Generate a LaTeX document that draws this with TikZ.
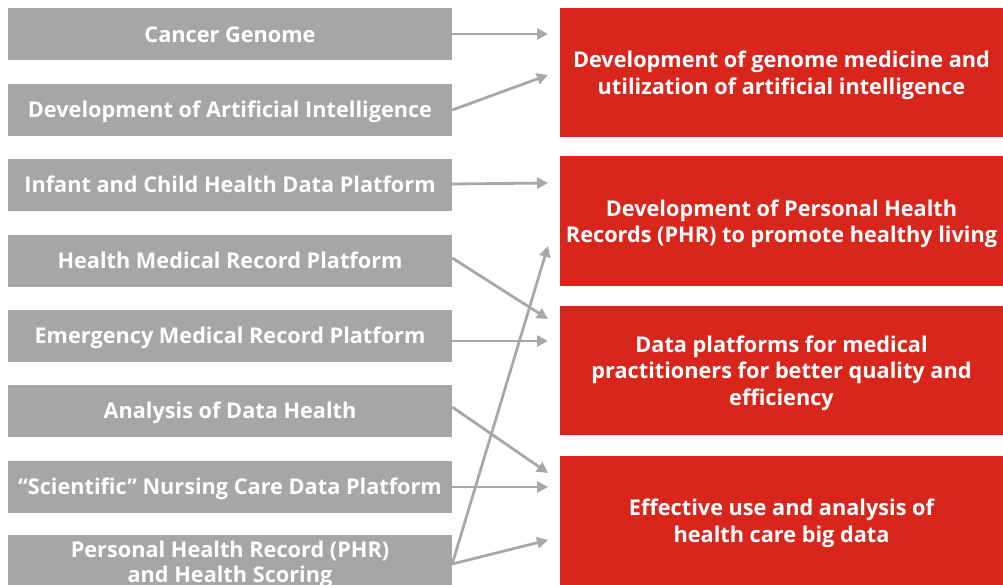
\documentclass[tikz,border=0pt]{standalone}
\usepackage{fontspec}
\setmainfont{Open Sans}[BoldFont={* Bold}]
\usetikzlibrary{arrows.meta}
\definecolor{srcgray}{HTML}{A6A6A6}
\definecolor{tgtred}{HTML}{D9261C}
\definecolor{linkgray}{HTML}{A8A8A8}
\tikzset{
  srcbox/.style={fill=srcgray, draw=none, minimum width=444pt, minimum height=52pt,
    inner sep=0pt, text=white, font=\bfseries\fontsize{21.7}{25}\selectfont, align=center,
    text height=15.5pt, text depth=0pt},
  tgtbox/.style={fill=tgtred, draw=none, minimum width=443pt, minimum height=129pt,
    inner sep=0pt, text=white, font=\bfseries\fontsize{21.7}{26.5}\selectfont, align=center,
    text depth=0pt},
  link/.style={draw=linkgray, line width=2.8pt, -{Triangle[length=11pt,width=11pt]}}
}
\begin{document}
\begin{tikzpicture}[x=1pt,y=-1pt]
\useasboundingbox (0,0) rectangle (1003,585);
\clip (0,0) rectangle (1003,585);
% source boxes
\node[srcbox] (s1) at (230,34.5)  {Cancer Genome};
\node[srcbox] (s2) at (230,110)   {Development of Artificial Intelligence};
\node[srcbox] (s3) at (230,185)   {Infant and Child Health Data Platform};
\node[srcbox] (s4) at (230,261)   {Health Medical Record Platform};
\node[srcbox] (s5) at (230,336)   {Emergency Medical Record Platform};
\node[srcbox] (s6) at (230,411)   {Analysis of Data Health};
\node[srcbox] (s7) at (230,486.5) {“Scientific” Nursing Care Data Platform};
\node[srcbox] (s8) at (230,561) {};
\node[text=white, font=\bfseries\fontsize{21.7}{25}\selectfont, align=center, inner sep=0pt]
  (s8t) at (230,564) {Personal Health Record (PHR)\\and Health Scoring};
% target boxes
\node[tgtbox] (t1) at (781.5,72.5)  {Development of genome medicine and\\utilization of artificial intelligence};
\node[tgtbox] (t2) at (781.5,221)   {Development of Personal Health\\Records (PHR) to promote healthy living};
\node[tgtbox] (t3) at (781.5,370.5) {Data platforms for medical\\practitioners for better quality and\\efficiency};
\node[tgtbox] (t4) at (781.5,520.5) {Effective use and analysis of\\health care big data};
% arrow end points just left of the targets
\coordinate (e1) at (548,34);
\coordinate (e2) at (548,75);
\coordinate (e3) at (548,183);
\coordinate (e4) at (548,246);
\coordinate (e5) at (548,319);
\coordinate (e6) at (548,341);
\coordinate (e7) at (548,473);
\coordinate (e8) at (548,487);
\coordinate (e9) at (548,540);
% connectors
\draw[link] (s1.east |- 0,34) -- (e1);
\draw[link] (s2.east) -- (e2);
\draw[link] (s3.east |- 0,184) -- (e3);
\draw[link] (s4.east |- 0,258) -- (e5);
\draw[link] (s5.east |- 0,341) -- (e6);
\draw[link] (s6.east |- 0,407) -- (e7);
\draw[link] (s7.east |- 0,487) -- (e8);
\draw[link] (s8.east |- 0,564) -- (e9);
\draw[link] (s8.east |- 0,564) -- (e4);
\end{tikzpicture}
\end{document}
